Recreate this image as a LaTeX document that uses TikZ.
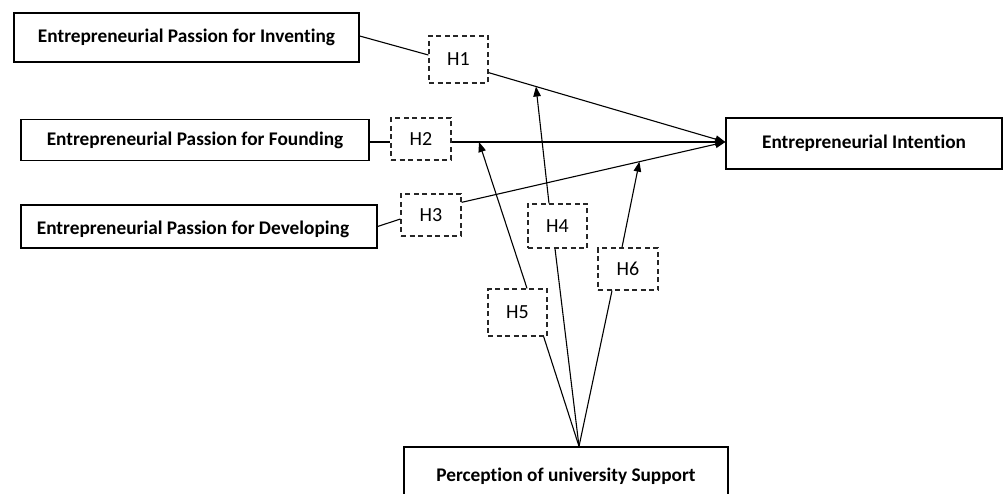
\documentclass[tikz,border=0pt]{standalone}
\usepackage{fontspec}
\setmainfont[Ligatures={NoCommon}]{Carlito}
\usetikzlibrary{arrows.meta,calc}
\begin{document}
\begin{tikzpicture}[x=1pt,y=-1pt,
  var/.style={draw=black,line width=1.3pt,rectangle,inner sep=0pt,font=\bfseries\fontsize{19.3}{21}\selectfont},
  hyp/.style={draw=black!85,line width=1.3pt,dash pattern=on 5pt off 3.5pt,rectangle,inner sep=0pt,font=\fontsize{20}{22}\selectfont},
  conn/.style={draw=black,line width=1.1pt},
  arr/.style={conn,-{Triangle[length=10pt,width=7.5pt]}}]
\useasboundingbox (0,0) rectangle (1008,494);
\node[var,minimum width=345pt,minimum height=49pt] (inv) at (186.5,37.5) {Entrepreneurial Passion for Inventing};
\node[var,minimum width=348pt,minimum height=41pt] (fou) at (195,140) {Entrepreneurial Passion for Founding};
\node[var,minimum width=356pt,minimum height=43pt,text depth=0pt] (dev) at (199,226.5) {\hspace*{-12pt}\raisebox{-3pt}{Entrepreneurial Passion for Developing}};
\node[var,minimum width=276pt,minimum height=51pt] (int) at (864,143.5) {Entrepreneurial Intention};
\node[var,minimum width=324pt,minimum height=60pt] (per) at (566,477) {\raisebox{5pt}{Perception of university Support}};
\node[hyp,minimum width=59pt,minimum height=47pt] (h1) at (458.5,59.5) {H1};
\node[hyp,minimum width=60pt,minimum height=42pt] (h2) at (421,139) {H2};
\node[hyp,minimum width=60pt,minimum height=42pt] (h3) at (431,215) {H3};
\node[hyp,minimum width=59pt,minimum height=44pt] (h4) at (557.5,226) {H4};
\node[hyp,minimum width=59pt,minimum height=47pt] (h5) at (517.5,312.5) {H5};
\node[hyp,minimum width=60pt,minimum height=42pt] (h6) at (628,269) {H6};
\coordinate (tip) at ([yshift=1.5pt]int.west);
\coordinate (o1) at ([yshift=11pt]h1.south east);
\coordinate (o2) at (h2.east |- tip);
\coordinate (o3) at ([yshift=-9pt]h3.north east);
\coordinate (pm) at ([xshift=13pt]per.north);
% inputs
\draw[conn] ([yshift=1.5pt]inv.east) -- ([yshift=4.5pt]h1.west);
\draw[conn] (fou.east |- tip) -- (h2.west |- tip);
\draw[conn] (dev.east) -- ([yshift=-4pt]h3.west);
% main paths
\draw[arr] (o1) -- (tip);
\draw[arr] (o2) -- (tip);
\draw[arr] (o3) -- (tip);
% moderation
\draw[arr] ([xshift=-8.5pt]h4.north) -- ($(o1)!0.2!(tip)$);
\draw[arr] ([xshift=9.5pt]h5.north) -- ($(o2)!0.1!(tip)$);
\draw[arr] ([xshift=-6pt]h6.north) -- ($(o3)!0.674!(tip)$);
% from support
\draw[conn] (pm) -- ([xshift=-4pt]h5.south east);
\draw[conn] (pm) -- ([xshift=-2.5pt]h4.south);
\draw[conn] (pm) -- ([xshift=-16pt]h6.south);
\end{tikzpicture}
\end{document}
